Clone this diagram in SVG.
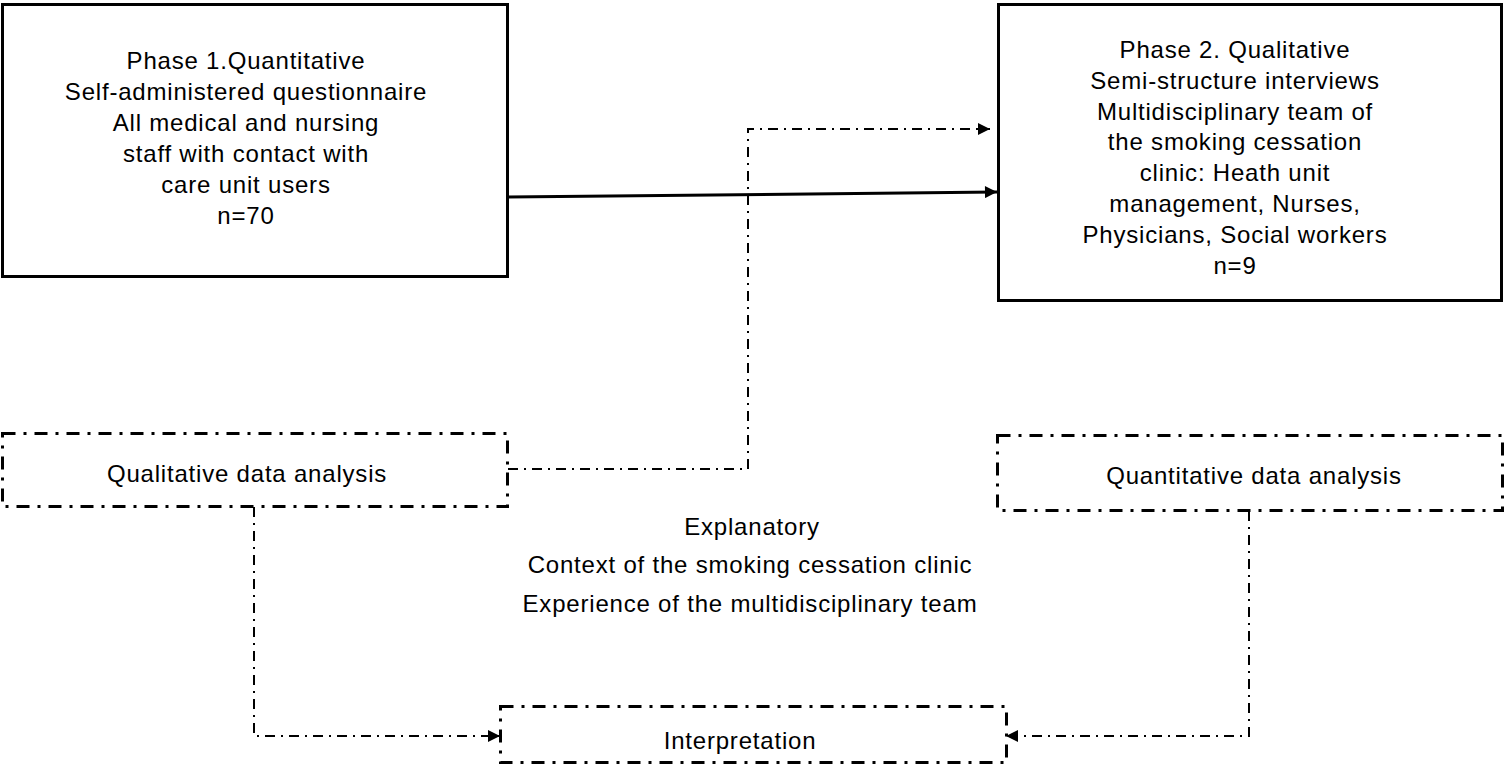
<svg xmlns="http://www.w3.org/2000/svg" width="1505" height="767" viewBox="0 0 1505 767">
<style>
text{font-family:"Liberation Sans",Arial,sans-serif;font-size:24px;letter-spacing:0.8px;fill:#000;text-anchor:middle}
.solid{fill:#fff;stroke:#000;stroke-width:3}
.dbox{fill:none;stroke:#000;stroke-width:3;stroke-dasharray:13 8 3 8}
.conn{fill:none;stroke:#000;stroke-width:2;stroke-dasharray:10 6 2 6}
.arrow{fill:none;stroke:#000;stroke-width:3}
</style>
<defs>
<marker id="ah" viewBox="0 0 10 10" refX="10" refY="5" markerWidth="13" markerHeight="12" markerUnits="userSpaceOnUse" orient="auto">
<path d="M0,0 L10,5 L0,10 Z" fill="#000"/>
</marker>
</defs>
<rect width="1505" height="767" fill="#fff"/>
<g id="connectors">
<line class="arrow" x1="508" y1="197" x2="997" y2="192" marker-end="url(#ah)"/>
<path class="conn" d="M508,469 H748 V129 H990" marker-end="url(#ah)"/>
<path class="conn" d="M254,507 V736 H500" marker-end="url(#ah)"/>
<path class="conn" d="M1249,511 V736 H1006" marker-end="url(#ah)"/>
</g>
<g id="phase1">
<rect class="solid" x="2.5" y="4.5" width="505" height="272"/>
<text x="246" y="69">Phase 1.Quantitative</text>
<text x="246" y="100">Self-administered questionnaire</text>
<text x="246" y="131">All medical and nursing</text>
<text x="246" y="162">staff with contact with</text>
<text x="246" y="193">care unit users</text>
<text x="246" y="224">n=70</text>
</g>
<g id="phase2">
<rect class="solid" x="998.5" y="4.5" width="503" height="296"/>
<text x="1235" y="58">Phase 2. Qualitative</text>
<text x="1235" y="89">Semi-structure interviews</text>
<text x="1235" y="120">Multidisciplinary team of</text>
<text x="1235" y="150">the smoking cessation</text>
<text x="1235" y="181">clinic: Heath unit</text>
<text x="1235" y="212">management, Nurses,</text>
<text x="1235" y="243">Physicians, Social workers</text>
<text x="1235" y="274">n=9</text>
</g>
<g id="qualitative-analysis">
<rect class="dbox" x="2.5" y="433.5" width="505" height="73"/>
<text x="247" y="482">Qualitative data analysis</text>
</g>
<g id="quantitative-analysis">
<rect class="dbox" x="997.5" y="435.5" width="505" height="75"/>
<text x="1254" y="484">Quantitative data analysis</text>
</g>
<g id="explanatory">
<text x="752" y="535">Explanatory</text>
<text x="750" y="573">Context of the smoking cessation clinic</text>
<text x="750" y="612">Experience of the multidisciplinary team</text>
</g>
<g id="interpretation">
<rect class="dbox" x="500.5" y="706.5" width="506" height="56"/>
<text x="740" y="749">Interpretation</text>
</g>
</svg>
